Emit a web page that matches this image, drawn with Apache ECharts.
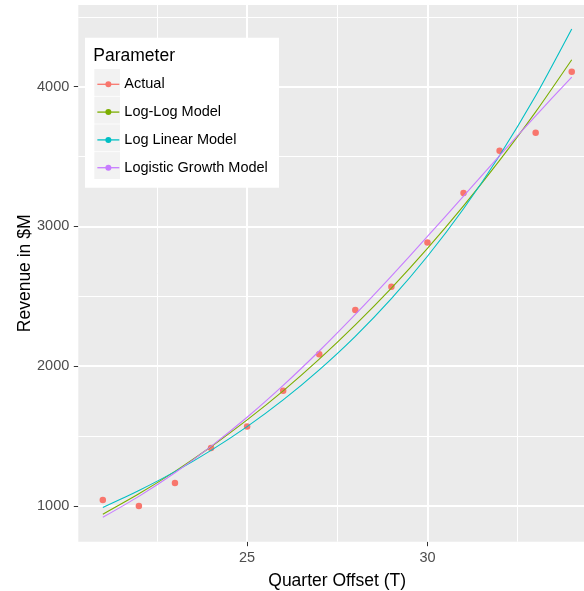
<!DOCTYPE html>
<html>
<head>
<meta charset="utf-8">
<script src="https://cdn.jsdelivr.net/npm/echarts@6/dist/echarts.min.js"></script>
<style>
html,body{margin:0;padding:0;background:#fff;}
#chart{width:584px;height:591px;}
</style>
</head>
<body>
<div id="chart"></div>
<script>
const quarters = [21, 22, 23, 24, 25, 26, 27, 28, 29, 30, 31, 32, 33, 34];
const actual = [1043, 1000, 1165, 1415, 1568, 1825, 2086, 2403, 2568, 2885, 3239, 3542, 3671, 4107];
const logLogModel = [941, 1087, 1248, 1424, 1616, 1824, 2051, 2296, 2559, 2843, 3147, 3473, 3820, 4193];
const logLinearModel = [990, 1111, 1246, 1398, 1568, 1759, 1974, 2214, 2484, 2787, 3127, 3508, 3935, 4413];
const logisticModel = [919, 1069, 1238, 1427, 1635, 1863, 2109, 2371, 2645, 2929, 3217, 3507, 3792, 4069];
const seriesNames = ['Actual', 'Log-Log Model', 'Log Linear Model', 'Logistic Growth Model'];
const seriesColors = ['#F8766D', '#7CAE00', '#00BFC4', '#C77CFF'];
const xTicks = [25, 30];
const xMinorGrid = [22.5, 27.5, 32.5];
const yTicks = [1000, 2000, 3000, 4000];
const yMinorGrid = [1500, 2500, 3500, 4500];

const FONT = 'Liberation Sans, Arial, sans-serif';
const pair = (xs, ys) => xs.map((x, i) => [x, ys[i]]);

const gridLines = [];
xMinorGrid.forEach(v => gridLines.push({xAxis: v, lineStyle: {width: 1}}));
yMinorGrid.forEach(v => gridLines.push({yAxis: v, lineStyle: {width: 1}}));
xTicks.forEach(v => gridLines.push({xAxis: v, lineStyle: {width: 2}}));
yTicks.forEach(v => gridLines.push({yAxis: v, lineStyle: {width: 2}}));

const chart = echarts.init(document.getElementById('chart'), null, {renderer: 'canvas'});
const keyRects = [0, 1, 2, 3].map(i => ({
  type: 'rect', z: 3,
  shape: {x: 94.3, y: 69 + i * 27.7, width: 25.7, height: 26.9},
  style: {fill: '#F2F2F2'}
}));
const modelSeries = [logLogModel, logLinearModel, logisticModel].map((vals, i) => ({
  name: seriesNames[i + 1], type: 'line', z: 3, data: pair(quarters, vals),
  symbol: 'none', showSymbol: false, smooth: 0.25,
  itemStyle: {color: seriesColors[i + 1]},
  lineStyle: {width: 1.1, color: seriesColors[i + 1]}
}));
chart.setOption({
  animation: false,
  grid: {
    left: 78.3, right: 0, top: 5, bottom: 49.3, z: 0,
    outerBoundsMode: 'none', containLabel: false,
    show: true, backgroundColor: '#EBEBEB', borderWidth: 0
  },
  xAxis: {
    type: 'value', min: 20.32, max: 34.34,
    name: 'Quarter Offset (T)', nameLocation: 'middle', nameGap: 30, nameMoveOverlap: false,
    nameTextStyle: {fontFamily: FONT, fontSize: 17.5, color: '#000', padding: [0, 0, 0, 12]},
    axisLine: {show: false},
    axisTick: {show: true, customValues: xTicks, length: 4.5, lineStyle: {color: '#333333', width: 1}},
    axisLabel: {customValues: xTicks, margin: 9, fontFamily: FONT, fontSize: 14.5, color: '#4D4D4D',
      formatter: v => String(v)},
    splitLine: {show: false}
  },
  yAxis: {
    type: 'value', min: 744.6, max: 4584.5,
    name: 'Revenue in $M', nameLocation: 'middle', nameGap: 44, nameMoveOverlap: false,
    nameTextStyle: {fontFamily: FONT, fontSize: 17.5, color: '#000'},
    axisLine: {show: false},
    axisTick: {show: true, customValues: yTicks, length: 4.5, lineStyle: {color: '#333333', width: 1}},
    axisLabel: {customValues: yTicks, margin: 9, fontFamily: FONT, fontSize: 14.5, color: '#4D4D4D',
      formatter: v => String(v)},
    splitLine: {show: false}
  },
  legend: {
    data: seriesNames,
    orient: 'vertical', left: 96.7, top: 76.3, padding: 0, z: 6,
    itemWidth: 22, itemHeight: 7.5, itemGap: 11.8,
    selectedMode: false,
    lineStyle: {width: 1.3},
    textStyle: {fontFamily: FONT, fontSize: 14.5, color: '#000', lineHeight: 16}
  },
  graphic: [
    {type: 'rect', z: 3, shape: {x: 85, y: 37.7, width: 194, height: 150}, style: {fill: '#FFFFFF'}},
    ...keyRects,
    {type: 'text', z: 5, x: 93.3, y: 56, style: {text: 'Parameter', fontFamily: FONT, fontSize: 17.5, fill: '#000', verticalAlign: 'middle'}}
  ],
  series: [
    {
      type: 'line', silent: true, z: 1, data: [],
      markLine: {silent: true, z: 1, symbol: ['none', 'none'], label: {show: false},
        lineStyle: {color: '#FFFFFF', type: 'solid'}, emphasis: {disabled: true}, data: gridLines}
    },
    {
      name: seriesNames[0], type: 'line', z: 2, data: pair(quarters, actual),
      symbol: 'circle', symbolSize: 6.5, showSymbol: true,
      itemStyle: {color: seriesColors[0]},
      lineStyle: {width: 0, color: seriesColors[0]}
    },
    ...modelSeries
  ]
});
</script>
</body>
</html>
